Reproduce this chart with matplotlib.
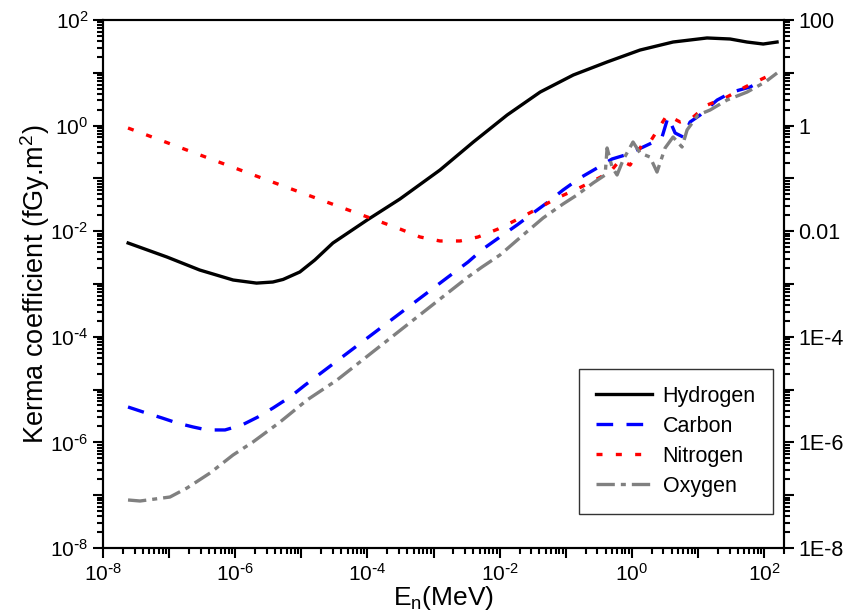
import numpy as np
import matplotlib
matplotlib.use("Agg")
import matplotlib.pyplot as plt
from matplotlib.ticker import LogLocator, FuncFormatter, NullFormatter

plt.rcParams['font.family'] = ['Liberation Sans', 'DejaVu Sans']
plt.rcParams['mathtext.default'] = 'regular'

# Neutron energy (MeV) and kerma coefficient (fGy.m^2)
E_H = [2.4e-8, 9.3e-8, 2.9e-7, 9.3e-7, 2.1e-6, 3.7e-6, 5.3e-6, 9.5e-6, 1.6e-5,
       3.0e-5, 9.9e-5, 3.1e-4, 1.25e-3, 4.0e-3, 1.3e-2, 4.1e-2, 0.13, 0.42,
       1.33, 4.2, 13.7, 30.6, 55, 97, 157]
K_H = [5.97e-3, 3.24e-3, 1.84e-3, 1.19e-3, 1.04e-3, 1.09e-3, 1.22e-3, 1.69e-3,
       2.85e-3, 5.97e-3, 1.63e-2, 4.07e-2, 0.144, 0.489, 1.59, 4.32, 9.09, 16.0,
       27.0, 38.3, 45.7, 43.7, 38.3, 35.1, 38.3]

E_C = [2.39e-8, 4.03e-8, 7.82e-8, 1.32e-7, 2.30e-7, 3.74e-7, 7.01e-7, 1.27e-6,
       2.21e-6, 3.73e-6, 6.75e-6, 1.14e-5, 1.91e-3, 3.33e-3, 5.61e-3, 1.01e-2,
       1.83e-2, 3.20e-2, 5.40e-2, 9.10e-2, 0.164, 0.297, 0.501, 0.789, 1.48,
       2.49, 2.86, 3.53, 4.51, 5.96, 7.59, 10.8, 19.5, 32.8, 61.4, 96.6]
K_C = [4.68e-6, 3.77e-6, 2.90e-6, 2.33e-6, 1.96e-6, 1.72e-6, 1.72e-6, 2.14e-6,
       3.03e-6, 4.48e-6, 7.24e-6, 1.22e-5, 1.55e-3, 2.61e-3, 4.61e-3, 7.77e-3,
       1.31e-2, 2.21e-2, 3.57e-2, 6.03e-2, 0.102, 0.157, 0.233, 0.277, 0.393,
       0.534, 0.608, 1.46, 0.724, 0.608, 1.17, 1.59, 3.05, 4.32, 5.38, 7.31]

E_N = [2.39e-8, 3.03e-6, 3.11e-4, 6.25e-4, 1.25e-3, 2.52e-3, 4.71e-3, 9.46e-3,
       1.90e-2, 3.68e-2, 7.38e-2, 0.148, 0.277, 0.468, 0.662, 0.94, 1.48, 1.88,
       3.41, 5.36, 8.14, 13.7, 25.7, 51.6, 107]
K_N = [0.90, 9.31e-2, 1.10e-2, 7.77e-3, 6.53e-3, 6.53e-3, 7.77e-3, 1.10e-2,
       1.70e-2, 2.63e-2, 4.25e-2, 6.29e-2, 9.31e-2, 0.132, 0.223, 0.179, 0.468,
       0.489, 1.59, 1.17, 1.39, 2.45, 3.33, 5.38, 8.32]

E_O = [2.39e-8, 3.63e-8, 1.03e-7, 1.87e-7, 4.16e-7, 9.27e-7, 1.86e-6, 4.76e-6,
       1.22e-5, 3.47e-5, 3.33e-3, 5.42e-3, 1.01e-2, 2.26e-2, 4.54e-2, 9.10e-2,
       0.148, 0.259, 0.394, 0.422, 0.501, 0.597, 0.736, 1.04, 1.33, 1.88, 2.40,
       3.18, 4.20, 5.74, 6.84, 10.0, 15.2, 27.5, 55.3, 104, 157]
K_O = [8.11e-8, 7.76e-8, 9.23e-8, 1.37e-7, 2.63e-7, 5.77e-7, 1.02e-6, 2.43e-6,
       6.35e-6, 1.52e-5, 1.36e-3, 2.10e-3, 3.54e-3, 8.47e-3, 1.78e-2, 3.28e-2,
       4.85e-2, 8.18e-2, 0.116, 0.377, 0.164, 0.116, 0.223, 0.489, 0.303,
       0.254, 0.132, 0.377, 0.608, 0.393, 0.826, 1.59, 1.97, 3.05, 4.32, 6.69, 9.91]

fig = plt.figure(figsize=(8.45, 6.12), dpi=100)
ax = fig.add_axes([0.1219, 0.1046, 0.8059, 0.8627])

lw = 2.4
ax.plot(E_H, K_H, color='black', lw=lw, label='Hydrogen')
ax.plot(E_C, K_C, color='blue', lw=lw, ls=(0, (5, 4)), label='Carbon')
ax.plot(E_N, K_N, color='red', lw=lw, ls=(0, (1.8, 4)), label='Nitrogen')
ax.plot(E_O, K_O, color='gray', lw=lw, ls=(0, (5.5, 1.8, 1.5, 1.8)), label='Oxygen')

ax.set_xscale('log')
ax.set_yscale('log')
ax.set_xlim(1e-8, 200)
ax.set_ylim(1e-8, 1e2)

def pow_label(v, pos):
    e = int(round(np.log10(v)))
    if e % 2:
        return ''
    if e < 0:
        return '$10^{\\text{-}%d}$' % -e
    return '$10^{%d}$' % e

def plain_label(v, pos):
    e = int(round(np.log10(v)))
    if e % 2:
        return ''
    if e >= 2:
        return '100'
    if e == 0:
        return '1'
    if e == -2:
        return '0.01'
    return '1E%d' % e

for axis in (ax.xaxis, ax.yaxis):
    axis.set_major_locator(LogLocator(base=10, numticks=20))
    axis.set_minor_locator(LogLocator(base=10, subs=np.arange(2, 10), numticks=20))
    axis.set_major_formatter(FuncFormatter(pow_label))
    axis.set_minor_formatter(NullFormatter())

ax.tick_params(which='both', direction='out', top=False, right=False,
               labelsize=15, width=1.5)
ax.tick_params(which='major', length=7)
ax.tick_params(which='minor', length=4)

ax2 = ax.twinx()
ax2.set_yscale('log')
ax2.set_ylim(1e-8, 1e2)
ax2.yaxis.set_major_locator(LogLocator(base=10, numticks=20))
ax2.yaxis.set_minor_locator(LogLocator(base=10, subs=np.arange(2, 10), numticks=20))
ax2.yaxis.set_major_formatter(FuncFormatter(plain_label))
ax2.yaxis.set_minor_formatter(NullFormatter())
ax2.tick_params(which='both', direction='out', labelsize=15.5, width=1.5)
ax2.tick_params(which='major', length=7)
ax2.tick_params(which='minor', length=4)

for a in (ax, ax2):
    for s in a.spines.values():
        s.set_linewidth(1.5)

ax.set_xlabel('E$_n$(MeV)', fontsize=19)
ax.xaxis.set_label_coords(0.5, -0.069)
ax.set_ylabel('Kerma coefficient (fGy.m$^2$)', fontsize=19.5)
ax.yaxis.set_label_coords(-0.075, 0.5)

leg = ax.legend(loc='lower right', bbox_to_anchor=(0.984, 0.064), fontsize=15.5,
                frameon=True, fancybox=False, handlelength=2.6, handletextpad=0.5,
                labelspacing=0.42, borderpad=0.8, borderaxespad=0)
leg.get_frame().set_edgecolor('black')
leg.get_frame().set_linewidth(1.0)

fig.savefig('out.png', dpi=100)
